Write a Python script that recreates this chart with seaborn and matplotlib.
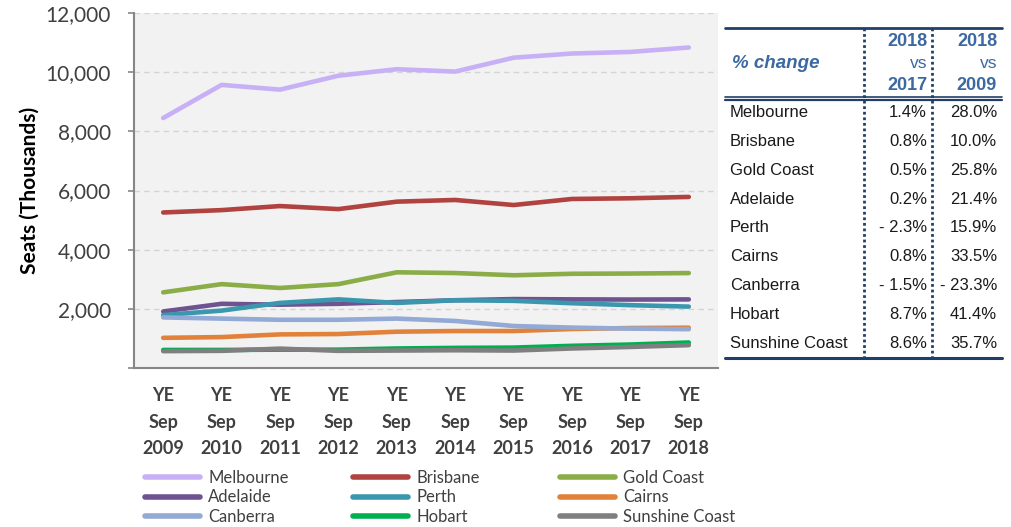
import matplotlib

matplotlib.use("Agg")
import matplotlib.pyplot as plt
import numpy as np
import pandas as pd
import seaborn as sns
from matplotlib.lines import Line2D

# data (seats, thousands)
years = ["2009", "2010", "2011", "2012", "2013", "2014", "2015", "2016", "2017", "2018"]
cities = [
    "Melbourne", "Brisbane", "Gold Coast", "Adelaide", "Perth",
    "Cairns", "Canberra", "Hobart", "Sunshine Coast",
]
melbourne = [8450, 9570, 9410, 9880, 10100, 10020, 10490, 10630, 10684, 10834]
brisbane = [5257, 5337, 5474, 5371, 5623, 5680, 5509, 5714, 5737, 5783]
gold_coast = [2557, 2835, 2705, 2835, 3235, 3210, 3135, 3185, 3193, 3209]
adelaide = [1910, 2170, 2140, 2170, 2230, 2290, 2330, 2320, 2314, 2319]
perth = [1790, 1940, 2200, 2320, 2200, 2290, 2270, 2190, 2124, 2075]
cairns = [1020, 1045, 1136, 1148, 1227, 1250, 1250, 1318, 1351, 1362]
canberra = [1710, 1670, 1630, 1630, 1670, 1590, 1420, 1365, 1332, 1312]
hobart = [610, 610, 620, 620, 660, 680, 690, 750, 793, 862]
sunshine_coast = [570, 580, 655, 580, 590, 600, 590, 660, 712, 773]
series = [melbourne, brisbane, gold_coast, adelaide, perth, cairns, canberra, hobart, sunshine_coast]

chg_vs_2017 = [1.4, 0.8, 0.5, 0.2, -2.3, 0.8, -1.5, 8.7, 8.6]
chg_vs_2009 = [28.0, 10.0, 25.8, 21.4, 15.9, 33.5, -23.3, 41.4, 35.7]

colors = [
    "#c8b0f6", "#b0433f", "#8aad48", "#6f5290", "#3b97ae",
    "#e2823a", "#92aad5", "#00b050", "#7f7f7f",
]

W, H = 1011, 527


def fx(px):
    return px / W


def fy(py):
    return 1 - py / H


def pct(v):
    return f"- {abs(v):.1f}%" if v < 0 else f"{v:.1f}%"


rows = []
for city, vals in zip(cities, series):
    for i, v in enumerate(vals):
        rows.append({"pos": i, "seats": v, "city": city})
df = pd.DataFrame(rows)

sns.set_style("white")
plt.rcParams["font.family"] = ["Lato", "DejaVu Sans"]

fig = plt.figure(figsize=(W / 100, H / 100), dpi=100)
ax = fig.add_axes([fx(134), fy(368), fx(718) - fx(134), fy(13) - fy(368)])
ax.set_facecolor("#f2f2f2")

sns.lineplot(
    data=df, x="pos", y="seats", hue="city", hue_order=cities,
    palette=colors, linewidth=3.3, solid_capstyle="round", ax=ax,
)
handles, labels = ax.get_legend_handles_labels()
ax.get_legend().remove()

ax.set_xlim(-0.5, 9.5)
ax.set_ylim(0, 12000)
yt = np.arange(0, 12001, 2000)
ax.set_yticks(yt)
ax.set_yticklabels(["" if v == 0 else f"{v:,}" for v in yt])
ax.set_xticks(range(len(years)))
ax.set_xticklabels([f"YE\nSep\n{y}" for y in years], fontweight="bold", linespacing=1.68)
ax.set_xticks(np.arange(-0.5, 10, 1), minor=True)
ax.tick_params(axis="x", which="major", length=0, pad=14, labelsize=13, labelcolor="#404040")
ax.tick_params(axis="x", which="minor", length=5, width=1.2, color="#868686", direction="out")
ax.tick_params(axis="y", length=4.5, width=1.2, color="#868686", pad=12,
               labelsize=15, labelcolor="#404040", left=True)
ax.set_xlabel("")
ax.set_ylabel("Seats (Thousands)", fontsize=15, fontweight="bold", labelpad=4, color="black")
ax.grid(axis="y", color="#d4d4d4", linestyle=(0, (4, 3)), linewidth=1)
for side in ["top", "right"]:
    ax.spines[side].set_visible(False)
for side in ["left", "bottom"]:
    ax.spines[side].set_color("#868686")
    ax.spines[side].set_linewidth(1.5)

for h in handles:
    h.set_linewidth(4)
    h.set_solid_capstyle("round")
for col, xpos in enumerate([145, 353, 560]):
    fig.legend(
        handles[col::3], labels[col::3], loc="upper left",
        bbox_to_anchor=(fx(xpos), fy(470)), frameon=False, borderpad=0,
        borderaxespad=0, handlelength=3.3, handletextpad=0.5,
        labelspacing=0.2, prop={"size": 12}, labelcolor="#404040",
    )

# summary table on the right
navy = "#223f6a"
blue = "#3c69a2"
tfont = ["Liberation Sans", "DejaVu Sans"]
left, right = 725, 1002
col1_x, col2_x = 927, 997
fig.add_artist(Line2D([fx(left), fx(right)], [fy(28), fy(28)], color=navy, lw=2))
fig.add_artist(Line2D([fx(left), fx(right)], [fy(96.5), fy(96.5)], color=navy, lw=1.2))
fig.add_artist(Line2D([fx(left), fx(right)], [fy(100), fy(100)], color=navy, lw=1.6))
fig.add_artist(Line2D([fx(left), fx(right)], [fy(358), fy(358)], color=navy, lw=2.2))
for xs in [864, 932]:
    fig.add_artist(Line2D([fx(xs), fx(xs)], [fy(28), fy(358)], color=navy,
                          lw=2, linestyle=(0, (1, 1))))

fig.text(fx(732), fy(63), "% change", family=tfont, fontsize=13.5, fontweight="bold",
         fontstyle="italic", color=blue, va="center", ha="left")
for xr, base in [(col1_x, "2017"), (col2_x, "2009")]:
    fig.text(fx(xr), fy(41), "2018", family=tfont, fontsize=13, fontweight="bold",
             color=blue, va="center", ha="right")
    fig.text(fx(xr), fy(63), "vs", family=tfont, fontsize=12.5, color=blue,
             va="center", ha="right")
    fig.text(fx(xr), fy(85), base, family=tfont, fontsize=13, fontweight="bold",
             color=blue, va="center", ha="right")

for i, city in enumerate(cities):
    yc = 113 + i * 28.75
    fig.text(fx(730), fy(yc), city, family=tfont, fontsize=12, color="#1a1a1a",
             va="center", ha="left")
    fig.text(fx(col1_x), fy(yc), pct(chg_vs_2017[i]), family=tfont, fontsize=12,
             color="#1a1a1a", va="center", ha="right")
    fig.text(fx(col2_x), fy(yc), pct(chg_vs_2009[i]), family=tfont, fontsize=12,
             color="#1a1a1a", va="center", ha="right")

fig.savefig("out.png", dpi=100)
plt.close(fig)
